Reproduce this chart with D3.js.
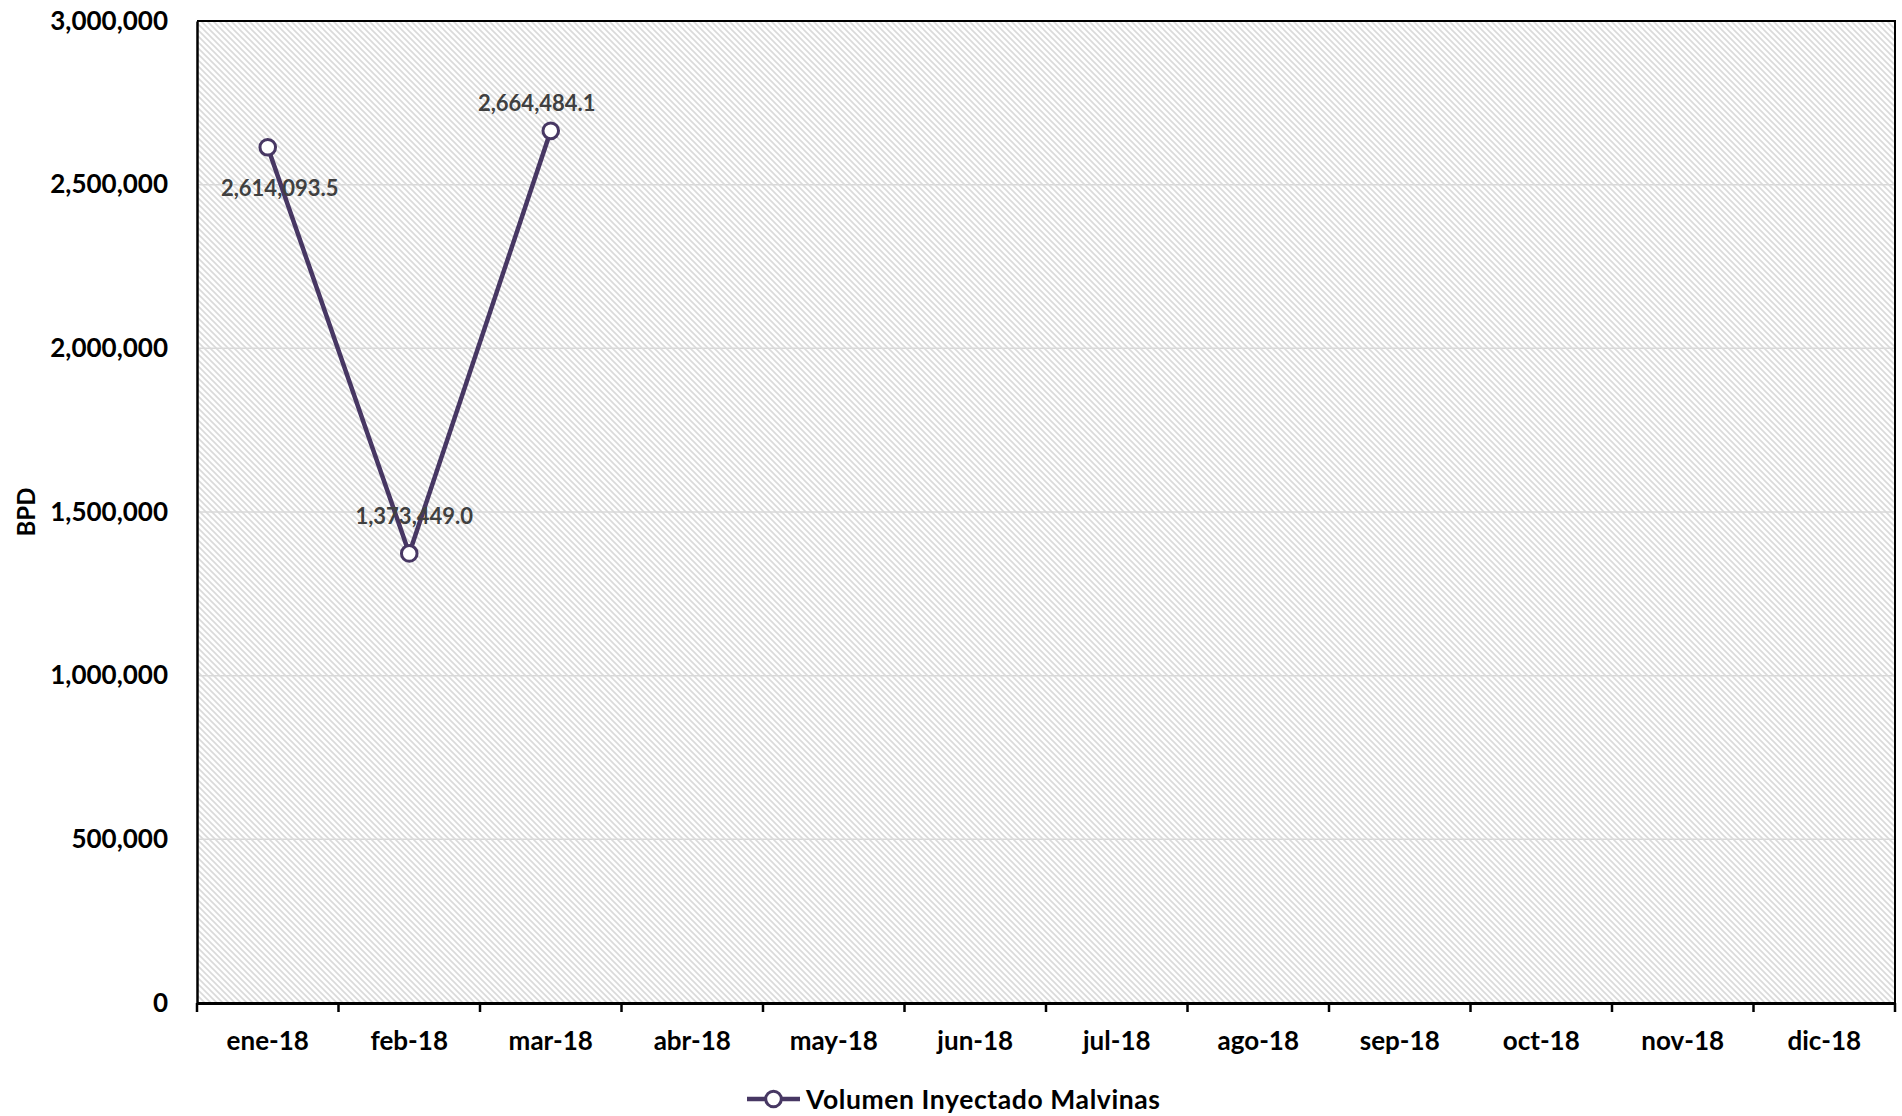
<!DOCTYPE html>
<html>
<head>
<meta charset="utf-8">
<script src="https://cdn.jsdelivr.net/npm/d3@7"></script>
<style>
  html, body { margin: 0; padding: 0; background: #fff; }
  svg { display: block; }
  text { font-family: Lato, "Open Sans", sans-serif; font-weight: bold; }
</style>
</head>
<body>
<svg id="chart" width="1902" height="1116"></svg>
<script>
// ---- data ----
const months = ["ene-18","feb-18","mar-18","abr-18","may-18","jun-18","jul-18","ago-18","sep-18","oct-18","nov-18","dic-18"];
const volumen = [2614093.5, 1373449.0, 2664484.1];
const yTicks = [0, 500000, 1000000, 1500000, 2000000, 2500000, 3000000];
const seriesName = "Volumen Inyectado Malvinas";
const yTitle = "BPD";

// ---- layout ----
const plot = { left: 197, right: 1895, top: 21, bottom: 1003 };
const lineColor = "#473763";

const svg = d3.select("#chart");

const x = d3.scaleBand().domain(months).range([plot.left, plot.right]).paddingInner(0).paddingOuter(0);
const y = d3.scaleLinear().domain([0, 3000000]).range([plot.bottom, plot.top]);

// hatch pattern
const defs = svg.append("defs");
const pat = defs.append("pattern")
  .attr("id", "hatch").attr("patternUnits", "userSpaceOnUse")
  .attr("width", 6).attr("height", 6);
pat.append("rect").attr("width", 6).attr("height", 6).attr("fill", "#ffffff");
pat.append("path").attr("d", "M-1,-1 L7,7 M-4,2 L1,7 M5,-1 L7,1")
  .attr("stroke", "#dadada").attr("stroke-width", 1.6);

svg.append("rect")
  .attr("x", plot.left).attr("y", plot.top)
  .attr("width", plot.right - plot.left).attr("height", plot.bottom - plot.top)
  .attr("fill", "url(#hatch)");

// gridlines
svg.append("g").selectAll("line").data(yTicks.filter(d => d > 0 && d < 3000000)).join("line")
  .attr("x1", plot.left).attr("x2", plot.right)
  .attr("y1", d => y(d)).attr("y2", d => y(d))
  .attr("stroke", "#d9d9d9").attr("stroke-width", 1.5);

// plot border (top, right)
svg.append("path")
  .attr("d", `M${plot.left},${plot.top} H${plot.right} V${plot.bottom}`)
  .attr("fill", "none").attr("stroke", "#000").attr("stroke-width", 2);

// y axis
const yAxis = svg.append("g")
  .attr("transform", `translate(${plot.left},0)`)
  .call(d3.axisLeft(y).tickValues(yTicks).tickFormat(d3.format(",")).tickSize(0).tickPadding(29));
yAxis.select(".domain").attr("stroke", "#000").attr("stroke-width", 2.5);
yAxis.selectAll("text").attr("font-size", 26).attr("fill", "#000")
  .attr("font-family", "Lato, sans-serif").attr("font-weight", "bold");

// x axis
const xAxis = svg.append("g")
  .attr("transform", `translate(0,${plot.bottom})`)
  .call(d3.axisBottom(x).tickSize(0).tickPadding(29));
xAxis.select(".domain").attr("stroke", "#000").attr("stroke-width", 3);
xAxis.selectAll("text").attr("font-size", 26).attr("fill", "#000")
  .attr("font-family", "Lato, sans-serif").attr("font-weight", "bold");
// boundary ticks
const bounds = d3.range(months.length + 1).map(i => plot.left + i * x.step());
svg.append("g").selectAll("line").data(bounds).join("line")
  .attr("x1", d => d).attr("x2", d => d)
  .attr("y1", plot.bottom).attr("y2", plot.bottom + 9)
  .attr("stroke", "#000").attr("stroke-width", 2.5);

// y title
svg.append("text")
  .attr("transform", `translate(25,${(plot.top + plot.bottom) / 2}) rotate(-90)`)
  .attr("text-anchor", "middle").attr("dominant-baseline", "central")
  .attr("font-size", 24).attr("fill", "#000").text(yTitle);

// line
const pts = volumen.map((v, i) => ({ m: months[i], v }));
const cx = d => x(d.m) + x.bandwidth() / 2;
svg.append("path")
  .datum(pts)
  .attr("d", d3.line().x(cx).y(d => y(d.v)))
  .attr("fill", "none").attr("stroke", lineColor).attr("stroke-width", 4.5)
  .attr("stroke-linejoin", "round");

svg.append("g").selectAll("circle").data(pts).join("circle")
  .attr("cx", cx).attr("cy", d => y(d.v)).attr("r", 7.8)
  .attr("fill", "#fff").attr("stroke", lineColor).attr("stroke-width", 3);

// data labels
const labelOffsets = [[12, 40], [5, -38], [-14, -28]];
svg.append("g").selectAll("text").data(pts).join("text")
  .attr("x", (d, i) => cx(d) + labelOffsets[i][0])
  .attr("y", (d, i) => y(d.v) + labelOffsets[i][1])
  .attr("text-anchor", "middle").attr("dominant-baseline", "central")
  .attr("font-size", 22).attr("fill", "#404040")
  .text(d => d3.format(",.1f")(d.v));

// legend
const lg = svg.append("g").attr("transform", "translate(747,1099)");
lg.append("line").attr("x1", 0).attr("x2", 53).attr("y1", 0).attr("y2", 0)
  .attr("stroke", lineColor).attr("stroke-width", 4.5);
lg.append("circle").attr("cx", 26.5).attr("cy", 0).attr("r", 7.8)
  .attr("fill", "#fff").attr("stroke", lineColor).attr("stroke-width", 3);
lg.append("text").attr("x", 59).attr("y", 0).attr("dominant-baseline", "central")
  .attr("font-size", 26.5).attr("letter-spacing", 0.6).attr("fill", "#000").text(seriesName);
</script>
</body>
</html>
